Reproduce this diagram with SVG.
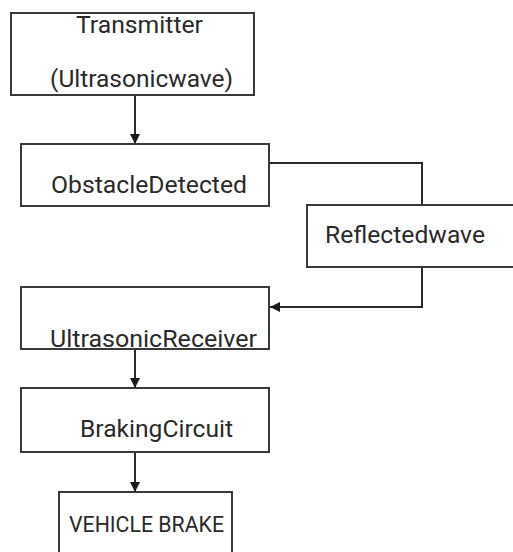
<svg xmlns="http://www.w3.org/2000/svg" width="513" height="552" viewBox="0 0 513 552">
<style>
.box{fill:#fff;stroke:#3a3a3a;stroke-width:2}
.t{font-family:Roboto,"Liberation Sans",sans-serif;font-size:24px;fill:#2a2a2a}
.s{font-size:22px}
.c{fill:none;stroke:#2a2a2a;stroke-width:2}
</style>
<defs>
<marker id="ah" viewBox="0 0 10 10" refX="10" refY="5" markerWidth="11" markerHeight="10" orient="auto" markerUnits="userSpaceOnUse">
<path d="M0,0 L10,5 L0,10 z" fill="#1a1a1a"/>
</marker>
</defs>
<rect width="513" height="552" fill="#fff"/>
<g id="connectors">
<line class="c" x1="135" y1="96" x2="135" y2="144" marker-end="url(#ah)"/>
<polyline class="c" points="269,163 422,163 422,205"/>
<polyline class="c" points="422,267 422,307 270,307" marker-end="url(#ah)"/>
<line class="c" x1="135" y1="349" x2="135" y2="388" marker-end="url(#ah)"/>
<line class="c" x1="135" y1="452" x2="135" y2="492" marker-end="url(#ah)"/>
</g>
<g id="transmitter">
<rect class="box" x="11" y="13" width="243" height="82" stroke="#555"/>
<text class="t" x="76" y="33" textLength="127" lengthAdjust="spacingAndGlyphs">Transmitter</text>
<text class="t" x="50" y="87" textLength="183" lengthAdjust="spacingAndGlyphs">(Ultrasonicwave)</text>
</g>
<g id="obstacle">
<rect class="box" x="21" y="144" width="248" height="62"/>
<text class="t" x="51" y="193" textLength="196" lengthAdjust="spacingAndGlyphs">ObstacleDetected</text>
</g>
<g id="reflected">
<rect class="box" x="307" y="205" width="210" height="62"/>
<text class="t" x="325" y="243" textLength="160" lengthAdjust="spacingAndGlyphs">Reflectedwave</text>
</g>
<g id="receiver">
<rect class="box" x="21" y="287" width="248" height="62"/>
<text class="t" x="50" y="347" textLength="207" lengthAdjust="spacingAndGlyphs">UltrasonicReceiver</text>
</g>
<g id="braking">
<rect class="box" x="21" y="388" width="248" height="64"/>
<text class="t" x="80" y="437" textLength="153" lengthAdjust="spacingAndGlyphs">BrakingCircuit</text>
</g>
<g id="vehicle">
<rect class="box" x="59" y="492" width="173" height="70"/>
<text class="t s" x="69" y="532" textLength="155" lengthAdjust="spacingAndGlyphs">VEHICLE BRAKE</text>
</g>
</svg>
